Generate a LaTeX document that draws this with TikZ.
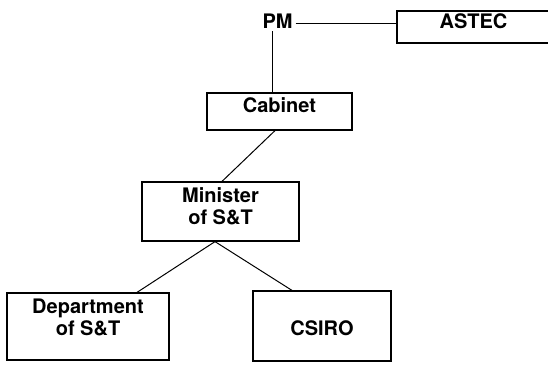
\documentclass[tikz,border=0pt]{standalone}
\usepackage{fontspec}
\setmainfont{TeX Gyre Heros}
\begin{document}
\begin{tikzpicture}[x=1pt,y=-1pt,
  box/.style={draw,line width=1.2pt,rectangle,inner sep=0pt,align=center,
    font=\fontsize{20}{22}\selectfont\bfseries},
  lab/.style={inner sep=3pt,font=\fontsize{20}{22}\selectfont\bfseries},
  conn/.style={line width=1pt}]
\useasboundingbox (0,0) rectangle (548,364);
\node[lab,anchor=base] (pm) at (277.5,28) {PM};
\node[box,minimum width=153pt,text height=17pt,text depth=15pt] (astec) at (473.5,27) {ASTEC};
\node[box,minimum width=145pt,text height=19pt,text depth=18pt] (cab) at (279.5,111.5) {Cabinet};
\node[box,minimum width=157pt,text height=42pt,text depth=17pt] (min) at (220.5,211.5) {Minister\\of S\&T};
\node[box,minimum width=162pt,text height=42pt,text depth=25pt] (dept) at (88,326.5) {Department\\of S\&T};
\node[box,minimum width=138pt,text height=44pt,text depth=26pt] (csiro) at (322,326) {CSIRO};
\draw[conn] ([yshift=-3pt]pm.east) -- ([yshift=-3pt]pm.east -| astec.west);
\draw[conn] ([xshift=-5.5pt]pm.south) -- ([xshift=-5.5pt]pm.south |- cab.north);
\draw[conn] ([xshift=-4.5pt]cab.south) -- ([xshift=1.5pt]min.north);
\draw[conn] ([xshift=-5.5pt]min.south) -- ([xshift=49pt]dept.north);
\draw[conn] ([xshift=-5.5pt]min.south) -- ([xshift=-30pt]csiro.north);
\end{tikzpicture}
\end{document}
